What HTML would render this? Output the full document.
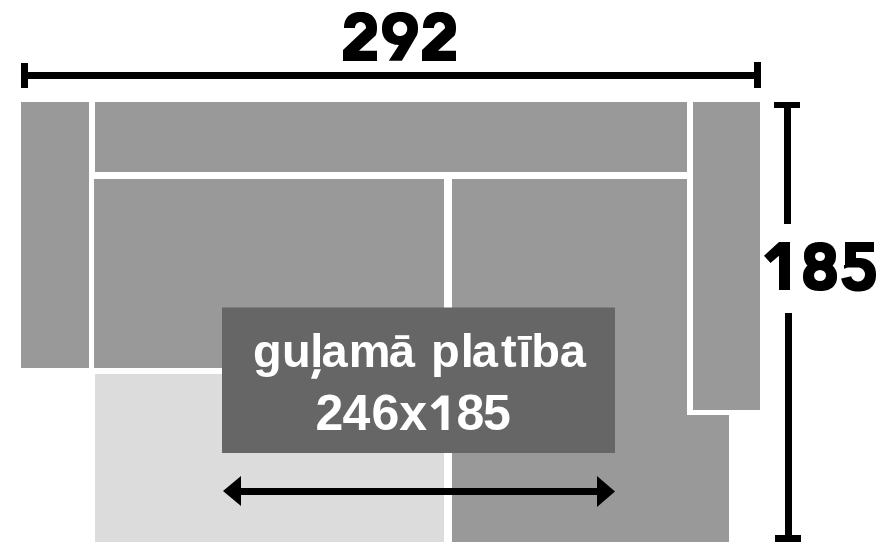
<!DOCTYPE html>
<html><head><meta charset="utf-8">
<style>
html,body{margin:0;padding:0;background:#fff;width:888px;height:559px;overflow:hidden;}
body{position:relative;font-family:"Liberation Sans",sans-serif;}
.r{position:absolute;}
.g{background:#999999;}
.lg{background:#dcdcdc;}
.k{background:#000;}
svg{position:absolute;left:0;top:0;}
.lt{position:absolute;left:0;top:0;width:888px;height:50px;line-height:50px;color:#fff;font-weight:bold;will-change:transform;}
.lt span{position:absolute;top:0;}
</style></head><body>
<!-- horizontal dimension -->
<div class="r k" style="left:21px;top:63px;width:7px;height:25px"></div>
<div class="r k" style="left:21px;top:72px;width:740px;height:7px"></div>
<div class="r k" style="left:754px;top:62px;width:7px;height:26px"></div>
<!-- sofa blocks -->
<div class="r g" style="left:21px;top:102px;width:68px;height:266px"></div>
<div class="r g" style="left:95px;top:102px;width:592px;height:70px"></div>
<div class="r g" style="left:94px;top:179px;width:350px;height:189px"></div>
<div class="r lg" style="left:95px;top:374px;width:349px;height:168px"></div>
<div class="r g" style="left:452px;top:179px;width:235px;height:363px"></div>
<div class="r g" style="left:452px;top:415px;width:277px;height:127px"></div>
<div class="r g" style="left:693px;top:102px;width:67px;height:308px"></div>
<!-- vertical dimension -->
<div class="r k" style="left:774px;top:102px;width:26px;height:6px"></div>
<div class="r k" style="left:784px;top:102px;width:7px;height:122px"></div>
<div class="r k" style="left:785px;top:313px;width:7px;height:229px"></div>
<div class="r k" style="left:775px;top:535px;width:26px;height:7px"></div>
<!-- label -->
<svg width="888" height="559"><rect x="222" y="307.5" width="393" height="145.5" fill="#666666"/></svg>
<div id="t1" class="lt" style="top:325.6px;font-size:47px"><span style="left:252.90px">g</span><span style="left:282.00px">u</span><span style="left:310.30px">l</span><span style="left:321.50px">a</span><span style="left:348.80px">m</span><span style="left:388.80px">ā</span><span style="left:431.10px">p</span><span style="left:460.70px">l</span><span style="left:471.70px">a</span><span style="left:501.00px">t</span><span style="left:518.30px">ī</span><span style="left:531.30px">b</span><span style="left:559.80px">a</span></div>
<div id="t2" class="lt" style="top:388px;font-size:50px"><span style="left:315.55px">2</span><span style="left:342.50px">4</span><span style="left:371.40px">6</span><span style="left:399.35px">x</span><span style="left:456.40px">8</span><span style="left:482.90px">5</span></div>
<svg width="888" height="559"><polygon points="314.3,369.2 321,369.2 317,378.8 311,378.8" fill="#fff"/></svg>
<svg width="888" height="559"><polygon points="441.5,395.5 448.5,395.5 448.5,430 441.5,430 441.5,404.5 434.7,409.7 430.6,405.7" fill="#fff"/></svg>
<svg width="888" height="559">
<path d="M344.00 28.00 L344.05 26.12 L344.21 24.58 L344.47 23.16 L344.83 21.83 L345.29 20.58 L345.85 19.41 L346.51 18.31 L347.26 17.29 L348.10 16.36 L349.03 15.50 L350.04 14.74 L351.13 14.06 L352.31 13.48 L353.56 12.99 L354.90 12.59 L356.32 12.30 L357.85 12.10 L359.55 12.01 L361.67 12.02 L363.35 12.12 L364.86 12.33 L366.27 12.64 L367.59 13.04 L368.84 13.54 L370.00 14.14 L371.09 14.83 L372.09 15.60 L373.01 16.47 L373.84 17.41 L374.58 18.44 L375.22 19.55 L375.77 20.73 L376.22 21.99 L376.57 23.33 L376.82 24.76 L376.96 26.32 L377.00 28.30 L376.93 30.07 L376.77 31.60 L376.49 33.01 L376.12 34.33 L375.65 35.57 L359.00 50.70 L377.00 50.70 L377.00 61.00 L343.00 61.00 L343.00 50.00 L366.00 28.30 L366.00 28.00 L365.98 27.49 L365.92 26.99 L365.82 26.49 L365.69 26.00 L365.51 25.53 L365.30 25.07 L365.06 24.64 L364.78 24.23 L364.47 23.85 L364.13 23.50 L363.77 23.18 L363.38 22.89 L362.98 22.64 L362.55 22.43 L362.11 22.26 L361.66 22.13 L361.20 22.05 L360.73 22.01 L360.27 22.01 L359.80 22.05 L359.34 22.13 L358.89 22.26 L358.45 22.43 L358.02 22.64 L357.62 22.89 L357.23 23.18 L356.87 23.50 L356.53 23.85 L356.22 24.23 L355.94 24.64 L355.70 25.07 L355.49 25.53 L355.31 26.00 L355.18 26.49 L355.08 26.99 L355.02 27.49 L355.00 28.00Z" fill="#000"/>
<path d="M388.80 60.70 L399.00 45.00 L398.62 44.98 L396.78 44.86 L395.11 44.64 L393.56 44.31 L392.11 43.87 L390.74 43.34 L389.47 42.70 L388.28 41.97 L387.18 41.14 L386.18 40.23 L385.28 39.22 L384.49 38.13 L383.80 36.96 L383.22 35.70 L382.75 34.37 L382.39 32.94 L382.15 31.41 L382.02 29.72 L382.01 27.58 L382.12 25.85 L382.34 24.30 L382.68 22.86 L383.13 21.51 L383.69 20.24 L384.37 19.06 L385.15 17.95 L386.03 16.93 L387.01 16.00 L388.09 15.16 L389.26 14.41 L390.53 13.76 L391.88 13.21 L393.32 12.76 L394.85 12.41 L396.50 12.17 L398.30 12.03 L400.60 12.00 L402.56 12.08 L404.27 12.27 L405.86 12.56 L407.35 12.95 L408.75 13.45 L410.06 14.05 L411.29 14.74 L412.42 15.53 L413.45 16.42 L414.39 17.39 L415.22 18.45 L415.96 19.59 L416.58 20.82 L417.09 22.12 L417.49 23.51 L417.78 25.00 L417.95 26.61 L418.00 28.62 L417.94 30.53 L417.76 32.13 L417.46 33.61 L417.05 34.99 L401.90 60.70ZM407.20 28.80 L407.17 29.42 L407.09 30.03 L406.96 30.64 L406.78 31.23 L406.54 31.80 L406.26 32.36 L405.93 32.88 L405.56 33.38 L405.15 33.84 L404.69 34.26 L404.21 34.64 L403.69 34.98 L403.14 35.28 L402.58 35.52 L401.99 35.72 L401.39 35.87 L400.77 35.96 L400.15 36.00 L399.54 35.99 L398.92 35.92 L398.31 35.80 L397.72 35.63 L397.14 35.41 L396.58 35.14 L396.05 34.82 L395.55 34.46 L395.08 34.05 L394.64 33.61 L394.25 33.13 L393.90 32.62 L393.59 32.08 L393.33 31.52 L393.12 30.94 L392.97 30.34 L392.86 29.73 L392.81 29.11 L392.81 28.49 L392.86 27.87 L392.97 27.26 L393.12 26.66 L393.33 26.08 L393.59 25.52 L393.90 24.98 L394.25 24.47 L394.64 23.99 L395.08 23.55 L395.55 23.14 L396.05 22.78 L396.58 22.46 L397.14 22.19 L397.72 21.97 L398.31 21.80 L398.92 21.68 L399.54 21.61 L400.15 21.60 L400.77 21.64 L401.39 21.73 L401.99 21.88 L402.58 22.08 L403.14 22.32 L403.69 22.62 L404.21 22.96 L404.69 23.34 L405.15 23.76 L405.56 24.22 L405.93 24.72 L406.26 25.24 L406.54 25.80 L406.78 26.37 L406.96 26.96 L407.09 27.57 L407.17 28.18 L407.20 28.80Z" fill="#000" fill-rule="evenodd"/>
<path d="M423.00 28.00 L423.05 26.12 L423.21 24.58 L423.47 23.16 L423.83 21.83 L424.29 20.58 L424.85 19.41 L425.51 18.31 L426.26 17.29 L427.10 16.36 L428.03 15.50 L429.04 14.74 L430.13 14.06 L431.31 13.48 L432.56 12.99 L433.90 12.59 L435.32 12.30 L436.85 12.10 L438.55 12.01 L440.67 12.02 L442.35 12.12 L443.86 12.33 L445.27 12.64 L446.59 13.04 L447.84 13.54 L449.00 14.14 L450.09 14.83 L451.09 15.60 L452.01 16.47 L452.84 17.41 L453.58 18.44 L454.22 19.55 L454.77 20.73 L455.22 21.99 L455.57 23.33 L455.82 24.76 L455.96 26.32 L456.00 28.30 L455.93 30.07 L455.77 31.60 L455.49 33.01 L455.12 34.33 L454.65 35.57 L438.00 50.70 L456.00 50.70 L456.00 61.00 L422.00 61.00 L422.00 50.00 L445.00 28.30 L445.00 28.00 L444.98 27.49 L444.92 26.99 L444.82 26.49 L444.69 26.00 L444.51 25.53 L444.30 25.07 L444.06 24.64 L443.78 24.23 L443.47 23.85 L443.13 23.50 L442.77 23.18 L442.38 22.89 L441.98 22.64 L441.55 22.43 L441.11 22.26 L440.66 22.13 L440.20 22.05 L439.73 22.01 L439.27 22.01 L438.80 22.05 L438.34 22.13 L437.89 22.26 L437.45 22.43 L437.02 22.64 L436.62 22.89 L436.23 23.18 L435.87 23.50 L435.53 23.85 L435.22 24.23 L434.94 24.64 L434.70 25.07 L434.49 25.53 L434.31 26.00 L434.18 26.49 L434.08 26.99 L434.02 27.49 L434.00 28.00Z" fill="#000"/>
<polygon points="779,242 790,242 790,290 779,290 779,255.7 770.5,263 764,255.7" fill="#000"/>
<path d="M836.00 256.00 L835.95 257.66 L835.79 259.02 L835.54 260.27 L835.18 261.44 L834.72 262.55 L834.17 263.58 L833.52 264.54 L832.78 265.44 L831.95 266.26 L831.03 267.01 L830.03 267.68 L828.95 268.26 L827.78 268.77 L826.54 269.19 L825.23 269.53 L823.82 269.77 L822.30 269.93 L820.57 270.00 L818.52 269.97 L816.93 269.86 L815.47 269.66 L814.10 269.37 L812.83 268.99 L811.63 268.53 L810.50 267.98 L809.46 267.35 L808.50 266.64 L807.63 265.86 L806.84 265.00 L806.14 264.07 L805.54 263.07 L805.04 262.00 L804.63 260.87 L804.32 259.66 L804.12 258.35 L804.01 256.91 L804.01 255.09 L804.12 253.65 L804.32 252.34 L804.63 251.13 L805.04 250.00 L805.54 248.93 L806.14 247.93 L806.84 247.00 L807.63 246.14 L808.50 245.36 L809.46 244.65 L810.50 244.02 L811.63 243.47 L812.83 243.01 L814.10 242.63 L815.47 242.34 L816.93 242.14 L818.52 242.03 L820.57 242.00 L822.30 242.07 L823.82 242.23 L825.23 242.47 L826.54 242.81 L827.78 243.23 L828.95 243.74 L830.03 244.32 L831.03 244.99 L831.95 245.74 L832.78 246.56 L833.52 247.46 L834.17 248.42 L834.72 249.45 L835.18 250.56 L835.54 251.73 L835.79 252.98 L835.95 254.34 L836.00 256.00Z" fill="#000"/>
<path d="M837.00 276.50 L836.95 278.22 L836.78 279.63 L836.51 280.92 L836.13 282.14 L835.64 283.28 L835.05 284.35 L834.37 285.35 L833.58 286.28 L832.69 287.13 L831.72 287.90 L830.65 288.59 L829.50 289.20 L828.27 289.73 L826.95 290.16 L825.55 290.51 L824.06 290.76 L822.44 290.93 L820.60 291.00 L818.43 290.97 L816.73 290.86 L815.18 290.65 L813.74 290.35 L812.38 289.96 L811.10 289.47 L809.91 288.91 L808.80 288.26 L807.78 287.52 L806.85 286.71 L806.02 285.82 L805.28 284.86 L804.64 283.82 L804.10 282.72 L803.67 281.54 L803.34 280.29 L803.12 278.94 L803.01 277.44 L803.01 275.56 L803.12 274.06 L803.34 272.71 L803.67 271.46 L804.10 270.28 L804.64 269.18 L805.28 268.14 L806.02 267.18 L806.85 266.29 L807.78 265.48 L808.80 264.74 L809.91 264.09 L811.10 263.53 L812.38 263.04 L813.74 262.65 L815.18 262.35 L816.73 262.14 L818.43 262.03 L820.60 262.00 L822.44 262.07 L824.06 262.24 L825.55 262.49 L826.95 262.84 L828.27 263.27 L829.50 263.80 L830.65 264.41 L831.72 265.10 L832.69 265.87 L833.58 266.72 L834.37 267.65 L835.05 268.65 L835.64 269.72 L836.13 270.86 L836.51 272.08 L836.78 273.37 L836.95 274.78 L837.00 276.50Z" fill="#000"/>
<ellipse cx="820" cy="256.5" rx="5" ry="4.5" fill="#fff"/>
<ellipse cx="820" cy="275.5" rx="6" ry="5.5" fill="#fff"/>
<path d="M845.00 242.00 L874.00 242.00 L874.00 252.00 L856.00 252.00 L856.00 258.00 L858.50 258.00 L860.56 258.05 L862.26 258.21 L863.82 258.48 L865.28 258.85 L866.65 259.32 L867.93 259.90 L869.14 260.57 L870.25 261.34 L871.28 262.20 L872.21 263.15 L873.05 264.19 L873.79 265.31 L874.42 266.52 L874.95 267.80 L875.38 269.17 L875.69 270.63 L875.90 272.20 L875.99 273.96 L875.98 276.12 L875.85 277.80 L875.61 279.33 L875.26 280.76 L874.80 282.10 L874.24 283.36 L873.57 284.54 L872.80 285.64 L871.93 286.65 L870.97 287.57 L869.92 288.41 L868.78 289.15 L867.55 289.79 L866.23 290.33 L864.84 290.78 L863.35 291.11 L861.75 291.35 L860.00 291.47 L857.76 291.49 L855.90 291.41 L854.25 291.22 L852.73 290.92 L851.29 290.52 L849.95 290.01 L848.69 289.41 L847.51 288.70 L846.42 287.91 L845.42 287.02 L844.52 286.04 L843.71 284.97 L843.01 283.83 L842.40 282.60 L841.90 281.29 L841.51 279.89 L841.23 278.40 L851.24 276.31 L851.42 276.88 L851.65 277.44 L851.92 277.97 L852.24 278.48 L852.60 278.95 L853.00 279.40 L853.44 279.81 L853.91 280.18 L854.41 280.51 L854.94 280.79 L855.48 281.03 L856.05 281.22 L856.63 281.37 L857.23 281.46 L857.82 281.50 L858.42 281.49 L859.02 281.43 L859.61 281.31 L860.18 281.15 L860.74 280.94 L861.28 280.68 L861.80 280.38 L862.29 280.03 L862.75 279.65 L863.17 279.22 L863.55 278.76 L863.90 278.27 L864.20 277.75 L864.45 277.21 L864.66 276.65 L864.82 276.07 L864.93 275.48 L864.99 274.89 L865.00 274.29 L864.95 273.69 L864.86 273.10 L864.71 272.52 L864.52 271.95 L864.28 271.40 L863.99 270.88 L863.66 270.38 L863.29 269.91 L862.87 269.48 L862.43 269.08 L861.95 268.72 L861.44 268.40 L860.90 268.13 L860.35 267.91 L859.78 267.73 L859.19 267.60 L858.60 267.53 L858.00 267.50 L847.80 267.50 L844.00 268.80 L844.00 265.00 L845.00 265.00Z" fill="#000"/>
</svg>
<!-- arrow -->
<div class="r k" style="left:238px;top:488px;width:362px;height:7px"></div>
<svg width="888" height="559"><polygon points="223,491 241,476 241,506" fill="#000"/><polygon points="615,491.5 597,476 597,507" fill="#000"/></svg>
</body></html>
